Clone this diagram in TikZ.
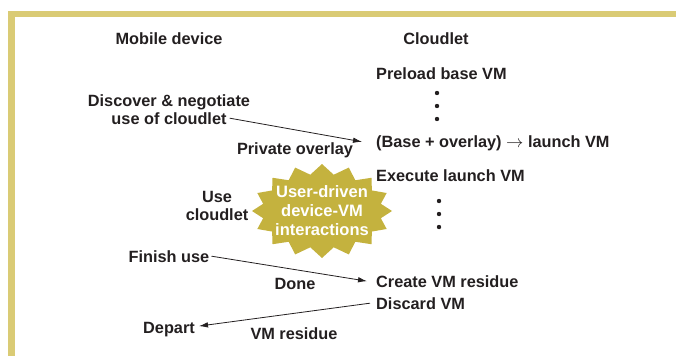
\documentclass[tikz,border=0pt]{standalone}
\usepackage{fontspec}
\setmainfont{Liberation Sans}
\usetikzlibrary{shapes.symbols,arrows.meta}
\definecolor{framecol}{HTML}{DACB75}
\definecolor{starcol}{HTML}{C4B23E}
\definecolor{ink}{HTML}{231F20}
\begin{document}
\begin{tikzpicture}[x=1pt,y=-1pt,
  lbl/.style={font=\bfseries\fontsize{16.3}{18}\selectfont, inner sep=0pt, text=ink, anchor=base},
  lblw/.style={lbl, anchor=base west},
  arr/.style={draw=ink, line width=0.8pt, -{Latex[length=9pt,width=5.5pt]}},
  dotc/.style={fill=ink}]
\useasboundingbox (0,0) rectangle (676,356);
% frame
\fill[framecol] (8,11) rectangle (676,17);
\fill[framecol] (8,11) rectangle (15,356);
% headers
\node[lbl] (mob) at (169,44) {Mobile device};
\node[lbl] (cld) at (436,44) {Cloudlet};
% cloudlet column
\node[lblw] (pre) at (376,79) {Preload base VM};
\fill[dotc] (437,93) circle (2.2);
\fill[dotc] (437,106) circle (2.2);
\fill[dotc] (437,119) circle (2.2);
\node[lblw] (base) at (376,147) {(Base + overlay) $\rightarrow$ launch VM};
\node[lblw] (exe) at (376,181) {Execute launch VM};
\fill[dotc] (439,201) circle (2.2);
\fill[dotc] (439,214) circle (2.2);
\fill[dotc] (439,227) circle (2.2);
\node[lblw] (cre) at (376,287) {Create VM residue};
\node[lblw] (dis) at (376,309) {Discard VM};
% mobile column
\node[lbl] (disc1) at (169,106) {Discover \& negotiate};
\node[lbl] (disc2) at (169,124) {use of cloudlet};
\node[lbl] (po) at (295,154) {Private overlay};
\node[lbl] (use1) at (217,202) {Use};
\node[lbl] (use2) at (217,220) {cloudlet};
\node[lbl] (fin) at (169,262) {Finish use};
\node[lbl] (done) at (295,289) {Done};
\node[lbl] (dep) at (169,333) {Depart};
\node[lbl] (vmr) at (294,339) {VM residue};
% starburst
\node[starburst, starburst points=16, starburst point height=10pt, random starburst=0,
  fill=starcol, minimum width=140pt, minimum height=94pt, inner xsep=-5pt, inner ysep=0pt, text=white, align=center,
  font=\bfseries\fontsize{16.5}{19}\selectfont] (star) at (322,211) {User-driven\\device-VM\\interactions};
% arrows
\draw[arr] ([xshift=3pt]disc2.east) -- ([xshift=-14pt,yshift=1pt]base.west);
\draw[arr] ([xshift=2pt]fin.east) -- ([xshift=-9pt]cre.west);
\draw[arr] ([xshift=-6pt]dis.west) -- ([xshift=4pt,yshift=3pt]dep.east);
\end{tikzpicture}
\end{document}
